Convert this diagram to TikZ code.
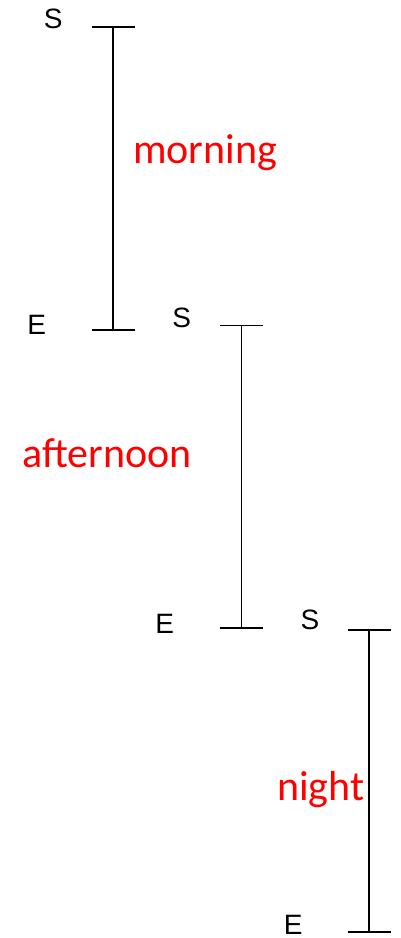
\documentclass[tikz,border=0pt]{standalone}
\usepackage{fontspec}
\usepackage{xcolor}
\usepackage{tikz}
\usetikzlibrary{arrows.meta,positioning}
\newfontfamily\letterfont{Liberation Sans}
\newfontfamily\periodfont{Carlito}
\definecolor{PRed}{HTML}{FF0000}

\begin{document}
\begin{tikzpicture}[x=0.75pt,y=-0.75pt,
    letter/.style={font=\letterfont\fontsize{21}{21}\selectfont,text=black,inner sep=0pt},
    period/.style={font=\periodfont\fontsize{31.5}{31.5}\selectfont,text=PRed,inner sep=0pt,anchor=base},
    span/.style={{Bar[width=32pt]}-{Bar[width=32pt]},black,line width=1.4pt}]
  \useasboundingbox (0,0) rectangle (400,938);
  % bar ends
  \coordinate (M1) at (113.3,26);
  \coordinate (M2) at (113.3,331);
  \coordinate (A1) at (241.5,324.5);
  \coordinate (A2) at (241.5,629);
  \coordinate (N1) at (369.3,629);
  \coordinate (N2) at (369.3,932.7);
  \draw[span] (M1) -- (M2);
  \draw[span] (A1) -- (A2);
  \draw[span] (N1) -- (N2);
  % start / end letters
  \node[letter] (S1) at (53.3,18.7) {S};
  \node[letter] (E1) at (36.7,324.7) {E};
  \node[letter] (S2) at (181.7,317.5) {S};
  \node[letter] (E2) at (164.7,623.5) {E};
  \node[letter] (S3) at (310,619.5) {S};
  \node[letter] (E3) at (293.3,925) {E};
  % periods
  \node[period] (morning) at (205,163.5) {morning};
  \node[period] (afternoon) at (107,467.5) {afternoon};
  \node[period] (night) at (320.8,800) {night};
\end{tikzpicture}
\end{document}
